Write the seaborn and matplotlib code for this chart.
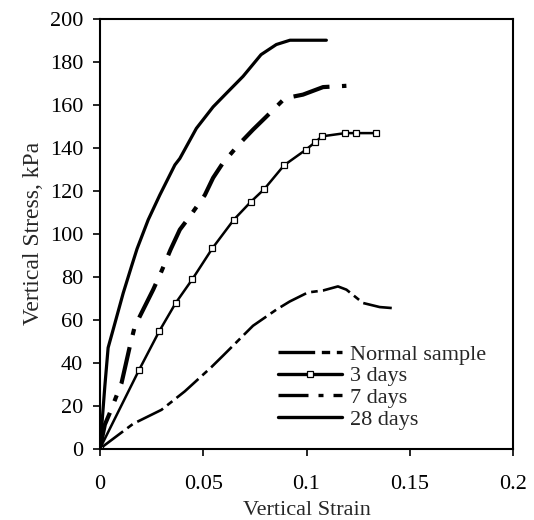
import matplotlib
matplotlib.use("Agg")
import matplotlib.pyplot as plt
import seaborn as sns

sns.set_style("ticks")
plt.rcParams['font.family'] = ['Liberation Serif', 'DejaVu Serif']

# strain / stress readings (kPa)
normal_x = [0, 0.0097, 0.0161, 0.0298, 0.0411, 0.054, 0.0596, 0.0741, 0.0854,
            0.0919, 0.1007, 0.108, 0.1152, 0.1193, 0.1273, 0.1354, 0.1418]
normal_y = [0, 7, 11.6, 18.1, 26.7, 38, 43.3, 57.2, 64.7,
            68.5, 72.7, 73.6, 75.5, 74, 67.8, 65.9, 65.4]

days3_x = [0, 0.019, 0.0287, 0.0367, 0.0448, 0.0545, 0.0648, 0.0729, 0.0796,
           0.0891, 0.0996, 0.1041, 0.1075, 0.1188, 0.1241, 0.1335]
days3_y = [0, 36.7, 54.6, 67.8, 78.9, 93.3, 106.5, 114.7, 120.8,
           131.8, 139, 142.5, 145.3, 146.8, 146.8, 146.8]

days7_x = [0, 0.0024, 0.0048, 0.0105, 0.0145, 0.0169, 0.0258, 0.0298, 0.0342,
           0.0387, 0.0435, 0.0508, 0.0548, 0.0596, 0.0677, 0.0741, 0.0806,
           0.0895, 0.0983, 0.108, 0.1193]
days7_y = [0, 11.2, 16.6, 30.6, 47.6, 56.9, 74, 82.5, 92.6,
           101.9, 108, 118, 126, 133, 142, 148.4, 154.5,
           163, 164.7, 168.2, 168.8]

days28_x = [0, 0.0008, 0.0024, 0.004, 0.0064, 0.0113, 0.0153, 0.018, 0.0234,
            0.029, 0.0363, 0.0387, 0.0467, 0.0548, 0.0613, 0.0693, 0.078,
            0.0854, 0.092, 0.1096]
days28_y = [0, 9, 29, 47, 55.3, 72.4, 84.8, 93, 106.5,
            118, 132, 135, 149, 159, 165.4, 173.2, 183.3,
            188, 190, 190]

fig = plt.figure(figsize=(5.34, 5.2), dpi=100)
ax = fig.add_axes([0.187, 0.137, 0.774, 0.827])

sns.lineplot(x=normal_x, y=normal_y, ax=ax, sort=False, color='black', lw=1.9,
             linestyle=(0, (11, 2, 2.5, 2)), label='Normal sample')
sns.lineplot(x=days3_x, y=days3_y, ax=ax, sort=False, color='black', lw=1.8,
             marker='s', markersize=4, markerfacecolor='white',
             markeredgecolor='black', markeredgewidth=0.9, label='3 days')
sns.lineplot(x=days7_x, y=days7_y, ax=ax, sort=False, color='black', lw=3,
             linestyle=(0, (9, 3, 1.5, 3)), label='7 days')
sns.lineplot(x=days28_x, y=days28_y, ax=ax, sort=False, color='black', lw=2.3,
             label='28 days')

ax.set_xlim(0, 0.2)
ax.set_ylim(0, 200)
ax.set_xticks([0, 0.05, 0.1, 0.15, 0.2])
ax.set_xticklabels(['0', '0.05', '0.1', '0.15', '0.2'])
ax.set_yticks(range(0, 201, 20))
ax.tick_params(direction='out', length=5, width=1.2, labelsize=16,
               colors='black')
ax.tick_params(axis='x', pad=14)
ax.tick_params(axis='y', pad=7)
for s in ax.spines.values():
    s.set_linewidth(1.5)
    s.set_color('black')

ax.set_xlabel('Vertical Strain', fontsize=16, labelpad=5)
ax.set_ylabel('Vertical Stress, kPa', fontsize=17, labelpad=4)

leg = ax.legend(loc='upper left', bbox_to_anchor=(0.431, 0.243), frameon=False,
                fontsize=16, handlelength=2.9, handletextpad=0.36,
                labelspacing=0.05, borderpad=0, borderaxespad=0)
# legend keys drawn a bit heavier, as in the original
for h in leg.get_lines():
    h.set_linewidth(2.4)

fig.savefig('out.png', dpi=100)
